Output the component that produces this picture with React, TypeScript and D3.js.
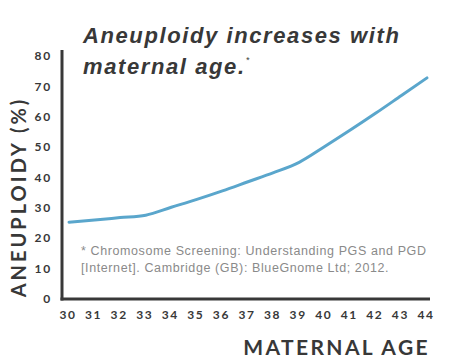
import React from "react";
import * as d3 from "d3";

const ages = [30, 31, 32, 33, 34, 35, 36, 37, 38, 39, 40, 41, 42, 43, 44];
const aneuploidy = [25.3, 26.0, 26.8, 27.6, 30.2, 32.8, 35.6, 38.6, 41.6, 45.0, 50.2, 55.6, 61.2, 67.0, 72.8];
const yTicks = [0, 10, 20, 30, 40, 50, 60, 70, 80];
const titleLines = ["Aneuploidy increases with", "maternal age."];
const footnoteLines = [
  "* Chromosome Screening: Understanding PGS and PGD",
  "[Internet]. Cambridge (GB): BlueGnome Ltd; 2012.",
];
const xTitle = "MATERNAL AGE";
const yTitle = "ANEUPLOIDY (%)";

export default function App() {
  const x = d3.scaleLinear().domain([30, 44]).range([69, 427]);
  const y = d3.scaleLinear().domain([0, 80]).range([299, 56]);
  const line = d3
    .line<number>()
    .x((_, i) => x(ages[i]))
    .y((d) => y(d))
    .curve(d3.curveMonotoneX);
  const dark = "#383838";
  return (
    <svg
      width={450}
      height={360}
      style={{ position: "absolute", left: 0, top: 0, background: "#fff" }}
    >
      {/* Title */}
      <text
        fontFamily="Liberation Sans, Arial, sans-serif"
        fontWeight="bold"
        fontStyle="italic"
        fontSize={22}
        letterSpacing={1.6}
        fill={dark}
      >
        <tspan x={83} y={43}>{titleLines[0]}</tspan>
        <tspan x={83} y={74}>
          {titleLines[1]}
          <tspan fontSize={9} dy={-11} fontWeight="normal">*</tspan>
        </tspan>
      </text>

      {/* Axes */}
      <line x1={62} x2={62} y1={50} y2={300.5} stroke={dark} strokeWidth={3} />
      <line x1={60.5} x2={430} y1={299} y2={299} stroke={dark} strokeWidth={3} />

      {/* Y ticks */}
      {yTicks.map((t) => (
        <text
          key={t}
          x={52}
          y={y(t)}
          dy="0.35em"
          textAnchor="end"
          fontFamily="Lato, sans-serif"
          fontSize={12}
          fontWeight="bold"
          letterSpacing={1.8}
          fill={dark}
        >
          {t}
        </text>
      ))}

      {/* X ticks */}
      {ages.map((a) => (
        <text
          key={a}
          x={x(a) - 1}
          y={319}
          textAnchor="middle"
          fontFamily="Lato, sans-serif"
          fontSize={12}
          fontWeight="bold"
          letterSpacing={1.6}
          fill={dark}
        >
          {a}
        </text>
      ))}

      {/* Axis titles */}
      <text
        x={430}
        y={355}
        textAnchor="end"
        fontFamily="Lato, sans-serif"
        fontWeight="bold"
        fontSize={21}
        letterSpacing={2.4}
        fill={dark}
      >
        {xTitle}
      </text>
      <text
        transform="translate(26,197) rotate(-90)"
        textAnchor="middle"
        fontFamily="Lato, sans-serif"
        fontWeight="bold"
        fontSize={20}
        letterSpacing={3}
        fill={dark}
      >
        {yTitle}
      </text>

      {/* Footnote */}
      {footnoteLines.map((l, i) => (
        <text
          key={i}
          x={81}
          y={255 + i * 17}
          fontFamily="Liberation Sans, Arial, sans-serif"
          fontSize={12.5}
          letterSpacing={0.6}
          fill="#8a8a8a"
        >
          {l}
        </text>
      ))}

      {/* Line */}
      <path
        d={line(aneuploidy) ?? ""}
        fill="none"
        stroke="#5aa6cc"
        strokeWidth={3}
        strokeLinecap="round"
      />
    </svg>
  );
}
